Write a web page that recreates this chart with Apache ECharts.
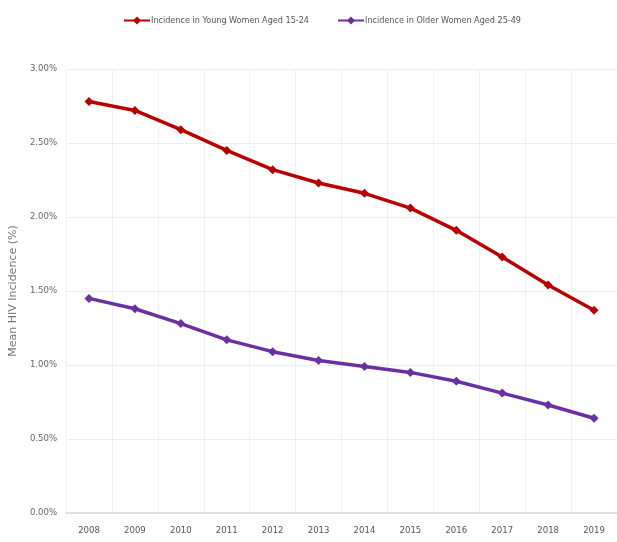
<!DOCTYPE html>
<html>
<head>
<meta charset="utf-8">
<script src="https://cdn.jsdelivr.net/npm/echarts@6/dist/echarts.min.js"></script>
<style>html,body{margin:0;padding:0;background:#fff}#c{width:617px;height:542px}</style>
</head>
<body>
<div id="c"></div>
<script>
const years = ['2008','2009','2010','2011','2012','2013','2014','2015','2016','2017','2018','2019'];
const youngWomen = [2.78, 2.72, 2.59, 2.45, 2.32, 2.23, 2.16, 2.06, 1.91, 1.73, 1.54, 1.37];
const olderWomen = [1.45, 1.38, 1.28, 1.17, 1.09, 1.03, 0.99, 0.95, 0.89, 0.81, 0.73, 0.64];
const seriesNames = ['Incidence in Young Women Aged 15-24', 'Incidence in Older Women Aged 25-49'];
const yAxisName = 'Mean HIV Incidence (%)';

const narrow = '"DejaVu Sans Condensed", "Liberation Sans", sans-serif';
const chart = echarts.init(document.getElementById('c'), null, {renderer: 'canvas'});
chart.setOption({
  animation: false,
  backgroundColor: '#fff',
  legend: {
    top: 11, left: 118,
    itemWidth: 26, itemHeight: 10, itemGap: 28,
    textStyle: {fontFamily: narrow, fontSize: 9, color: '#555', padding: [0, 0, 0, -4]},
    data: seriesNames
  },
  grid: {left: 66, right: -8, top: 69, bottom: 29},
  xAxis: {
    type: 'category', data: years, boundaryGap: true,
    axisLine: {show: true, lineStyle: {color: '#d9d9d9', width: 1.5}},
    axisTick: {show: false},
    axisLabel: {fontFamily: narrow, fontSize: 9.5, color: '#555', margin: 13},
    splitLine: {show: true, lineStyle: {color: '#f0f0f0'}}
  },
  yAxis: {
    type: 'value', min: 0, max: 3, interval: 0.5,
    name: yAxisName, nameLocation: 'middle', nameGap: 45, nameRotate: 90,
    nameTextStyle: {fontFamily: '"DejaVu Sans", sans-serif', fontSize: 11, color: '#777'},
    axisLine: {show: false}, axisTick: {show: false},
    axisLabel: {fontFamily: narrow, fontSize: 9.5, color: '#666', margin: 9,
      formatter: v => v.toFixed(2) + '%'},
    splitLine: {show: true, lineStyle: {color: '#ececec'}}
  },
  series: [
    {name: seriesNames[0], type: 'line', data: youngWomen,
     symbol: 'diamond', symbolSize: 9,
     lineStyle: {color: '#B80000', width: 3.5},
     itemStyle: {color: '#B80000'}},
    {name: seriesNames[1], type: 'line', data: olderWomen,
     symbol: 'diamond', symbolSize: 9,
     lineStyle: {color: '#6A2FA0', width: 3.5},
     itemStyle: {color: '#6A2FA0'}}
  ]
});
</script>
</body>
</html>
